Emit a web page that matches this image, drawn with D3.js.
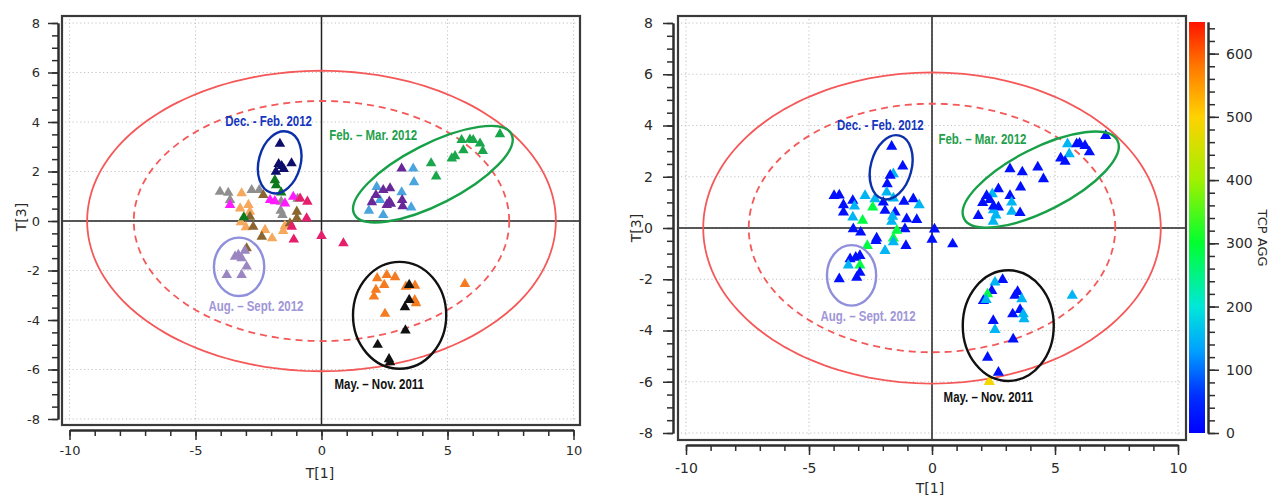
<!DOCTYPE html>
<html>
<head>
<meta charset="utf-8">
<script src="https://cdn.jsdelivr.net/npm/d3@7"></script>
<style>
  body { margin: 0; background: #fff; }
  svg { display: block; }
</style>
</head>
<body>
<svg id="chart" width="1273" height="496"></svg>
<script>
// ---------------------------------------------------------------
// PCA score plot T[1] vs T[3]: left panel coloured by sampling
// group, right panel coloured by TCP AGG.
// ---------------------------------------------------------------

// Tick labels
const t1TickLabels = [-10, -5, 0, 5, 10];
const t3TickLabels = [-8, -6, -4, -2, 0, 2, 4, 6, 8];
const tcpTickLabels = [0, 100, 200, 300, 400, 500, 600];

// Scores per sampling group, [T1, T3]
const greyScores = [[-4.03,1.18],[-3.7,1.14],[-3.63,0.85],[-2.77,1.25],[-2.47,1.25],[-1.6,0.78],[-1.62,0.42],[-1.55,0.24],[-0.95,0.9]];
const sandScores = [[-3.17,1.12],[-2.9,0.65],[-3.23,0.51],[-2.84,0.38],[-3.2,-0.05],[-2.24,-0.36],[-1.96,-0.7],[-1.52,-0.4],[-1.45,-0.2],[-3.0,-0.25]];
const brownScores = [[-2.31,1.05],[-2.84,0.17],[-2.71,-0.23],[-2.37,-0.63],[-1.25,-0.09],[-0.98,0.38],[-0.98,0.11],[-2.97,-1.1]];
const magentaScores = [[-3.63,0.65],[-2.04,0.85],[-1.85,0.8],[-1.45,0.71],[-1.12,0.98]];
const crimsonScores = [[-0.85,0.91],[-0.56,0.78],[-0.59,0.11],[-1.18,-0.23],[-1.1,-0.75],[0.0,-0.6],[0.87,-0.9]];
const darkGreenScores = [[-1.85,1.65],[-1.8,1.45],[-1.6,1.15],[-3.08,0.15]];
const decFebScores = [[-1.65,3.12],[-1.58,2.22],[-1.7,2.3],[-1.19,2.33],[-1.81,1.99],[-1.5,2.1]];
const augSeptScores = [[-3.3,-1.37],[-3.17,-1.5],[-3.43,-1.44],[-2.97,-1.84],[-3.76,-2.18],[-3.17,-2.18],[-3.04,-1.2]];
const skyBlueScores = [[3.64,2.12],[3.67,1.57],[2.19,1.38],[3.18,1.16],[2.32,0.85],[1.88,0.42],[2.45,0.24],[3.56,0.55]];
const purpleScores = [[3.18,2.12],[2.16,1.05],[2.72,1.32],[2.45,1.25],[2.69,0.78],[2.0,0.76],[3.2,0.85],[3.22,0.6],[2.59,0.65],[2.75,0.7]];
const febMarScores = [[7.08,3.51],[5.56,3.27],[5.89,3.29],[6.02,3.27],[6.29,3.13],[5.63,2.86],[6.4,2.83],[5.3,2.62],[5.17,2.53],[4.35,2.33],[4.55,1.8]];
const orangeScores = [[2.21,-2.31],[2.59,-2.18],[2.92,-2.27],[2.49,-2.58],[2.16,-2.78],[2.08,-3.05],[3.35,-2.65],[3.71,-2.61],[3.75,-3.32],[3.7,-3.2],[2.52,-3.75],[5.69,-2.54]];
const mayNovScores = [[3.48,-2.58],[3.48,-3.19],[3.31,-3.48],[3.33,-4.42],[2.23,-5.0],[2.68,-5.58],[2.72,-5.71]];

// Scores with TCP AGG, [T1, T3, TCP AGG]
const tcpScores = [
  [-1.64,3.18,20],[-1.19,2.41,20],[-1.57,2.11,150],[-1.7,2.05,20],[-1.82,1.72,20],[-1.84,1.39,150],
  [-3.98,1.26,20],[-3.77,1.28,20],[-3.6,0.9,20],[-3.22,1.07,20],[-2.72,1.26,150],[-2.32,1.13,150],
  [-2.41,0.81,290],[-1.98,1.0,20],[-1.57,1.16,150],[-1.14,1.03,20],[-0.76,1.13,20],[-0.52,0.9,150],
  [-3.6,0.61,20],[-3.22,0.42,150],[-3.15,0.85,150],[-2.82,0.29,290],[-3.2,-0.04,20],[-2.9,-0.17,20],
  [-1.91,0.68,20],[-1.5,0.61,20],[-1.64,0.25,150],[-1.6,0.45,150],[-1.03,0.35,20],[-0.62,0.32,20],
  [-1.1,-0.04,20],[0.1,-0.05,20],[-1.43,-0.1,290],[-2.25,-0.4,20],[-1.57,-0.4,290],[-2.63,-0.69,290],
  [-1.06,-0.69,20],[0.0,-0.45,20],[-1.91,-0.89,150],[-1.57,-0.55,150],[-2.28,-0.5,20],
  [-3.33,-1.21,20],[-2.93,-1.08,20],[-3.4,-1.45,150],[-3.1,-1.15,20],[-2.93,-1.45,290],
  [-3.77,-1.99,20],[-3.06,-1.93,20],[-2.93,-1.74,20],
  [7.06,3.6,20],[5.51,3.28,150],[5.88,3.28,20],[6.0,3.3,20],[6.22,3.21,20],[6.4,2.96,20],
  [5.58,2.89,150],[5.23,2.72,20],[5.41,2.59,20],[4.3,2.37,20],[4.53,1.91,20],[3.17,2.3,20],
  [3.67,2.18,20],[3.6,1.59,20],[2.7,1.52,20],[2.45,1.33,150],[2.22,1.26,20],[3.17,1.26,20],
  [3.24,1.0,150],[2.06,0.98,20],[2.7,0.81,20],[2.5,0.7,150],[2.6,0.5,150],[1.88,0.48,20],
  [3.24,0.64,150],[3.58,0.59,20],[2.49,0.25,150],[0.84,-0.63,20],[2.35,1.1,20],[2.5,0.85,20],
  [2.87,-2.02,20],[2.56,-2.12,150],[2.43,-2.45,20],[2.26,-2.58,290],[2.09,-2.84,20],[2.2,-2.8,150],
  [3.48,-2.49,20],[3.37,-2.64,20],[3.65,-2.77,150],[3.58,-3.19,20],[3.28,-3.36,20],[3.71,-3.36,150],
  [3.74,-3.55,150],[2.49,-3.62,20],[2.56,-3.97,150],[3.3,-4.34,20],[2.26,-5.05,20],[2.7,-5.64,20],
  [2.33,-6.0,490],[5.7,-2.64,150]
];

// Hotelling T2 ellipse semi-axes (solid 99 %, dashed 95 %)
const hotellingA = [9.3, 7.45];
const hotellingB = [6.07, 4.85];

// Period annotations
const periodNames = ["Dec. - Feb. 2012", "Feb. \u2013 Mar. 2012", "Aug. \u2013 Sept. 2012", "May. \u2013 Nov. 2011"];

// ---------------------------------------------------------------
const svg = d3.select("#chart");
const FONT = "'Liberation Sans', Arial, sans-serif";
const TICK_FONT = "'DejaVu Sans', Verdana, sans-serif";
const AXIS_COL = "#2e2e2e";

const groups = [
  { pts: greyScores,      color: "#8f8f8f" },
  { pts: sandScores,      color: "#f6a85c" },
  { pts: brownScores,     color: "#8a6530" },
  { pts: magentaScores,   color: "#ff1aff" },
  { pts: crimsonScores,   color: "#e61f6c" },
  { pts: darkGreenScores, color: "#0b7a1c" },
  { pts: decFebScores,    color: "#0d0d6b" },
  { pts: augSeptScores,   color: "#9a86c0" },
  { pts: skyBlueScores,   color: "#4aa5de" },
  { pts: purpleScores,    color: "#68289a" },
  { pts: febMarScores,    color: "#1aa64a" },
  { pts: orangeScores,    color: "#f47b1f" },
  { pts: mayNovScores,    color: "#111111" }
];

// annotation ellipses in score units; tilt in screen degrees
const annotations = [
  { name: periodNames[0], cx: -1.66, cy: 2.37, rx: 0.83, ry: 1.28, tilt: 15, stroke: "#0b30aa", text: "#1636bd", lx: -2.1, ly: 4.03 },
  { name: periodNames[1], cx: 4.42, cy: 1.89, rx: 3.5, ry: 1.22, tilt: -27, stroke: "#17a047", text: "#1fa04c", lx: 2.05, ly: 3.47 },
  { name: periodNames[2], cx: -3.27, cy: -1.85, rx: 1.0, ry: 1.18, tilt: 0, stroke: "#8f8fdc", text: "#a096d8", lx: -2.6, ly: -3.45 },
  { name: periodNames[3], cx: 3.1, cy: -3.81, rx: 1.85, ry: 2.16, tilt: 0, stroke: "#111111", text: "#111111", lx: 2.29, ly: -6.58 }
];

// TCP AGG colour scale
const tcpStops  = [0, 60, 130, 200, 300, 400, 500, 580, 650];
const tcpColors = ["#0000ff", "#0030ff", "#00a0ff", "#00e8d8", "#00ff30", "#a0f000", "#ffd200", "#ff7800", "#ff1400"];
const tcpColor = d3.scaleLinear().domain(tcpStops).range(tcpColors).clamp(true);

const panels = [
  { frame: [62, 16, 580, 425], xr: [69.5, 573.5], yr: [419, 23], yAxisX: 58, xAxisY: 430,
    yPad: 8, xPad: 6, fs: 13, xTitle: [320, 478], yTitle: [21, 217], sym: 48, kind: "group" },
  { frame: [678, 16, 1186, 440], xr: [686, 1178], yr: [433, 23], yAxisX: 673, xAxisY: 445,
    yPad: 10, xPad: 8, fs: 14, xTitle: [930, 493], yTitle: [636, 228], sym: 54, kind: "tcp" }
];

function styleAxis(sel, fs) {
  sel.select(".domain").attr("stroke", AXIS_COL).attr("stroke-width", 2);
  sel.selectAll(".tick line").attr("stroke", AXIS_COL).attr("stroke-width", 1.5);
  sel.selectAll(".tick text").attr("fill", "#2a2a2a").style("font-family", TICK_FONT).style("font-size", fs + "px");
}

panels.forEach(p => {
  const x = d3.scaleLinear().domain([-10, 10]).range(p.xr);
  const y = d3.scaleLinear().domain([-8, 8]).range(p.yr);
  const g = svg.append("g");
  const [fx0, fy0, fx1, fy1] = p.frame;

  // dotted grid
  const grid = g.append("g").attr("stroke", "#c4c4c4").attr("stroke-width", 1.1).attr("stroke-dasharray", "1.2,2.6");
  grid.selectAll("line.v").data(t1TickLabels).join("line")
    .attr("x1", d => x(d)).attr("x2", d => x(d)).attr("y1", fy0 + 3).attr("y2", fy1 - 3);
  grid.selectAll("line.h").data(t3TickLabels).join("line")
    .attr("y1", d => y(d)).attr("y2", d => y(d)).attr("x1", fx0 + 3).attr("x2", fx1 - 3);

  // zero lines
  g.append("line").attr("x1", x(0)).attr("x2", x(0)).attr("y1", fy0).attr("y2", fy1)
    .attr("stroke", "#222").attr("stroke-width", 1.5);
  g.append("line").attr("x1", fx0).attr("x2", fx1).attr("y1", y(0)).attr("y2", y(0))
    .attr("stroke", "#222").attr("stroke-width", 1.5);

  // Hotelling ellipses
  const ang = d3.range(0, 361, 2).map(d => d * Math.PI / 180);
  hotellingA.forEach((a, i) => {
    const b = hotellingB[i];
    g.append("path")
      .attr("d", d3.line()(ang.map(t => [x(a * Math.cos(t)), y(b * Math.sin(t))])))
      .attr("fill", "none").attr("stroke", "#f55858").attr("stroke-width", 1.8)
      .attr("stroke-dasharray", i === 1 ? "7,5" : null);
  });

  // points
  const tri = d3.symbol(d3.symbolTriangle, p.sym);
  if (p.kind === "group") {
    groups.forEach(gr => {
      g.append("g").selectAll("path").data(gr.pts).join("path")
        .attr("d", tri)
        .attr("transform", d => `translate(${x(d[0])},${y(d[1])})`)
        .attr("fill", gr.color);
    });
  } else {
    g.append("g").selectAll("path").data(tcpScores).join("path")
      .attr("d", tri)
      .attr("transform", d => `translate(${x(d[0])},${y(d[1])})`)
      .attr("fill", d => tcpColor(d[2]));
  }

  // annotation ellipses and labels
  annotations.forEach(an => {
    const cx = x(an.cx), cy = y(an.cy);
    const rx = x(an.rx) - x(0), ry = y(0) - y(an.ry);
    g.append("ellipse").attr("cx", 0).attr("cy", 0).attr("rx", rx).attr("ry", ry)
      .attr("transform", `translate(${cx},${cy}) rotate(${an.tilt})`)
      .attr("fill", "none").attr("stroke", an.stroke).attr("stroke-width", 2.4);
    g.append("g").attr("transform", `translate(${x(an.lx)},${y(an.ly)}) scale(0.82,1)`)
      .append("text").attr("text-anchor", "middle").attr("dy", "0.36em")
      .style("font-family", FONT).style("font-weight", "bold").style("font-size", "14px")
      .attr("fill", an.text).text(an.name);
  });

  // frame
  g.append("rect").attr("x", fx0).attr("y", fy0).attr("width", fx1 - fx0).attr("height", fy1 - fy0)
    .attr("fill", "none").attr("stroke", "#3a3a3a").attr("stroke-width", 2.2);

  // y axis: minor every 0.5, labelled every 2
  const yMinor = g.append("g").attr("transform", `translate(${p.yAxisX},0)`)
    .call(d3.axisLeft(y).tickValues(d3.range(-8, 8.001, 0.5)).tickSize(6).tickSizeOuter(0).tickFormat(""));
  styleAxis(yMinor, p.fs);
  const yMajor = g.append("g").attr("transform", `translate(${p.yAxisX},0)`)
    .call(d3.axisLeft(y).tickValues(t3TickLabels).tickSize(10).tickSizeOuter(0).tickPadding(p.yPad).tickFormat(d => String(d)));
  styleAxis(yMajor, p.fs);

  // x axis: minor every 1, labelled every 5
  const xMinor = g.append("g").attr("transform", `translate(0,${p.xAxisY})`)
    .call(d3.axisBottom(x).tickValues(d3.range(-10, 10.001, 1)).tickSize(6).tickSizeOuter(0).tickFormat(""));
  styleAxis(xMinor, p.fs);
  const xMajor = g.append("g").attr("transform", `translate(0,${p.xAxisY})`)
    .call(d3.axisBottom(x).tickValues(t1TickLabels).tickSize(10).tickSizeOuter(0).tickPadding(p.xPad).tickFormat(d => String(d)));
  styleAxis(xMajor, p.fs);

  // axis titles
  g.append("text").attr("x", p.xTitle[0]).attr("y", p.xTitle[1]).attr("text-anchor", "middle")
    .style("font-family", TICK_FONT).style("font-size", "14px").attr("fill", "#2a2a2a").text("T[1]");
  g.append("text").attr("transform", `translate(${p.yTitle[0]},${p.yTitle[1]}) rotate(-90)`)
    .attr("text-anchor", "middle").attr("dy", "0.36em")
    .style("font-family", TICK_FONT).style("font-size", "14px").attr("fill", "#2a2a2a").text("T[3]");
});

// ---------------- colour bar ----------------
const cb = { x: 1189, w: 16, top: 22, bottom: 433, axisX: 1208 };
const cScale = d3.scaleLinear().domain([0, 650]).range([cb.bottom, cb.top]);
const grad = svg.append("defs").append("linearGradient").attr("id", "tcpGrad")
  .attr("x1", 0).attr("y1", 1).attr("x2", 0).attr("y2", 0);
grad.selectAll("stop").data(tcpStops).join("stop")
  .attr("offset", d => d / 650).attr("stop-color", d => tcpColor(d));
svg.append("rect").attr("x", cb.x).attr("y", cb.top).attr("width", cb.w).attr("height", cb.bottom - cb.top)
  .attr("fill", "url(#tcpGrad)");

const cMinor = svg.append("g").attr("transform", `translate(${cb.axisX},0)`)
  .call(d3.axisRight(cScale).tickValues(d3.range(0, 641, 20)).tickSize(7).tickSizeOuter(0).tickFormat(""));
styleAxis(cMinor, 14);
const cMajor = svg.append("g").attr("transform", `translate(${cb.axisX},0)`)
  .call(d3.axisRight(cScale).tickValues(tcpTickLabels).tickSize(11).tickSizeOuter(0).tickPadding(7).tickFormat(d => String(d)));
styleAxis(cMajor, 14);

svg.append("text").attr("transform", "translate(1263,238) rotate(90)")
  .attr("text-anchor", "middle").attr("dy", "0.36em")
  .style("font-family", TICK_FONT).style("font-size", "13px").attr("fill", "#2a2a2a").text("TCP AGG");
</script>
</body>
</html>
